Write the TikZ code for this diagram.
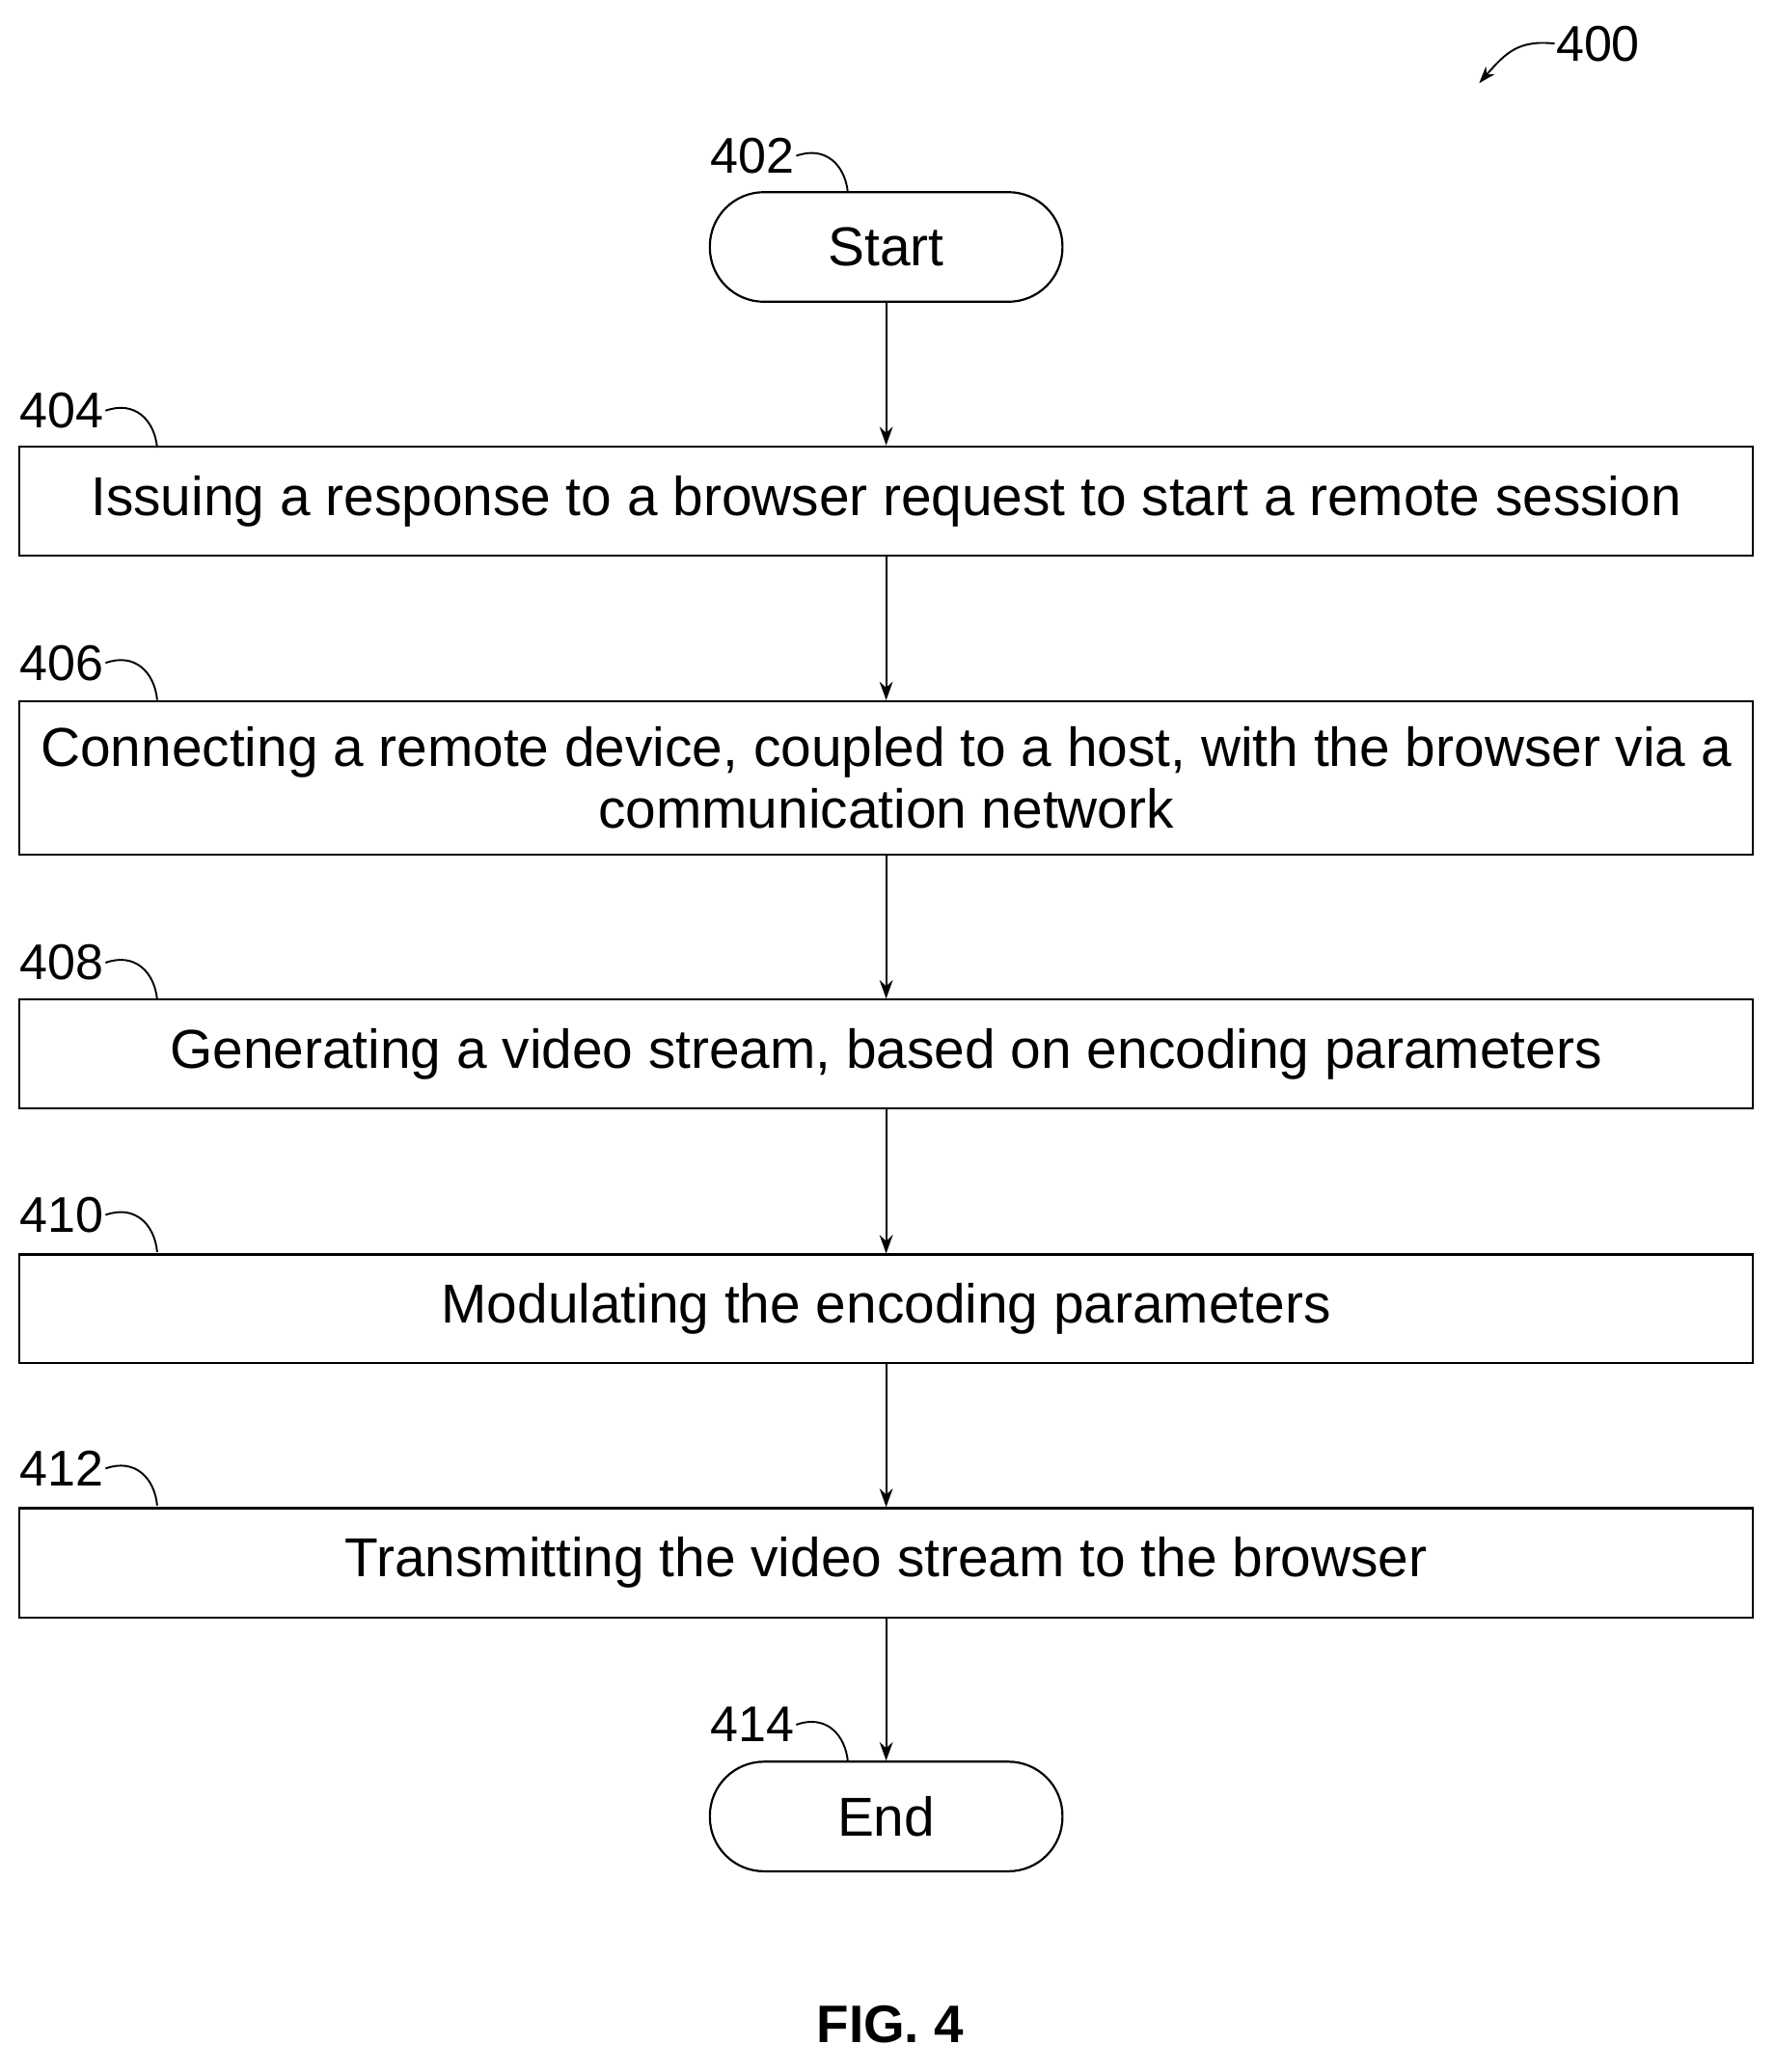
\documentclass[tikz,border=0pt]{standalone}
\usepackage{fontspec}
\setmainfont{Liberation Sans}
\usetikzlibrary{arrows.meta}
\begin{document}
\begin{tikzpicture}[x=1pt,y=-1pt,
 box/.style={draw,line width=1.6pt,minimum width=1313pt,align=center,font=\fontsize{41.5}{47}\selectfont,inner sep=0pt},
 term/.style={draw,line width=1.6pt,rounded corners=41pt,minimum width=267pt,minimum height=83pt,font=\fontsize{41.5}{44}\selectfont},
 lab/.style={font=\fontsize{38}{40}\selectfont,inner sep=1pt},
 arr/.style={line width=1.6pt,-{Stealth[length=14pt,width=10pt]}},
 sq/.style={line width=1.4pt}]
\useasboundingbox (0,0) rectangle (1344,1569);
\node[term] (s) at (671,187) {Start};
\node[box,minimum height=83pt] (b404) at (671,379.5) {Issuing a response to a browser request to start a remote session};
\node[box,minimum height=116pt] (b406) at (671,589) {Connecting a remote device, coupled to a host, with the browser via a\\communication network};
\node[box,minimum height=82pt] (b408) at (671,798) {Generating a video stream, based on encoding parameters};
\node[box,minimum height=82pt] (b410) at (671,991) {Modulating the encoding parameters};
\node[box,minimum height=83pt] (b412) at (671,1183.5) {Transmitting the video stream to the browser};
\node[term] (e) at (671,1375.5) {End};
\draw[arr] (s) -- (b404);
\draw[arr] (b404) -- (b406);
\draw[arr] (b406) -- (b408);
\draw[arr] (b408) -- (b410);
\draw[arr] (b410) -- (b412);
\draw[arr] (b412) -- (e);
\node[lab] (l402) at (570,118) {402};
\draw[sq] (l402.east) .. controls (625,110) and (640,125) .. (642,146);
\node[lab] (l414) at (570,1306) {414};
\draw[sq] (l414.east) .. controls (625,1298) and (640,1313) .. (642,1334);
\foreach \n/\y in {404/311,406/502,408/729,410/920,412/1112}{
  \node[lab] (l\n) at (47,\y) {\n};
  \draw[sq] (l\n.east) .. controls (102,{\y-8}) and (117,{\y+7}) .. (119,{\y+28});
}
\node[lab] (l400) at (1210,33) {400};
\coordinate (a400) at (1120,63);
\draw[line width=1.4pt,-{Stealth[length=13pt,width=9pt]}] (l400.west) .. controls (1150,30) and (1140,40) .. (a400);
\node[font=\bfseries\fontsize{40}{44}\selectfont] (fig) at (674,1533) {FIG. 4};
\end{tikzpicture}
\end{document}
